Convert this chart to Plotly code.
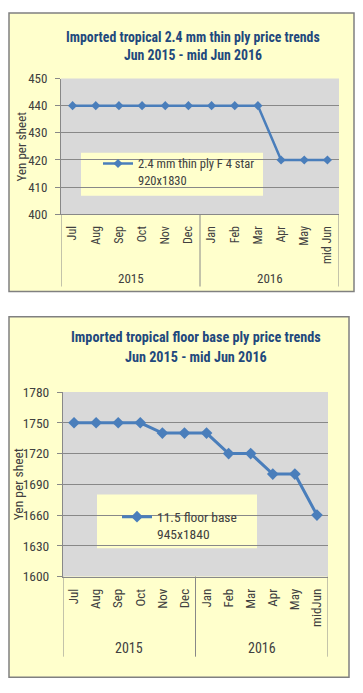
import plotly.graph_objects as go

# ---------------- data ----------------
months_1 = ["Jul", "Aug", "Sep", "Oct", "Nov", "Dec", "Jan", "Feb", "Mar", "Apr", "May", "mid Jun"]
thin_ply_prices = [440, 440, 440, 440, 440, 440, 440, 440, 440, 420, 420, 420]
months_2 = ["Jul", "Aug", "Sep", "Oct", "Nov", "Dec", "Jan", "Feb", "Mar", "Apr", "May", "midJun"]
floor_base_prices = [1750, 1750, 1750, 1750, 1740, 1740, 1740, 1720, 1720, 1700, 1700, 1660]
years = ["2015", "2016"]
year_centres = [2.5, 8.5]
year_bounds = [-0.5, 5.5, 11.5]
y_ticks_1 = [400, 410, 420, 430, 440, 450]
y_ticks_2 = [1600, 1630, 1660, 1690, 1720, 1750, 1780]
y_title = "Yen per sheet"
series_name_1 = "2.4 mm thin ply F 4 star<br>920x1830"
series_name_2 = "11.5 floor base<br>945x1840"
title_1 = ["Imported tropical 2.4 mm thin ply price trends", "Jun 2015 - mid Jun 2016"]
title_2 = ["Imported tropical floor base ply price trends", "Jun 2015 - mid Jun 2016"]

# ---------------- layout helpers ----------------
OFF = 8  # page body margin
W, H = 363 - OFF, 693 - OFF
def px(x):
    return (x - OFF) / W
def py(y):
    return 1 - (y - OFF) / H

FONT = "Liberation Sans Narrow, Arial Narrow, Roboto Condensed, Liberation Sans, sans-serif"
TXT = "#404040"
BLUE = "#4A7EBB"
TITLE_C = "#1F497D"
GRID = "#888888"
YEL = "#FFFFCC"
PLOTBG = "#D9D9D9"

fig = go.Figure()
fig.add_trace(go.Scatter(x=months_1, y=thin_ply_prices, mode="lines+markers",
                         name=series_name_1, xaxis="x", yaxis="y", legend="legend",
                         line=dict(color=BLUE, width=2.5),
                         marker=dict(symbol="diamond", size=7, color=BLUE)))
fig.add_trace(go.Scatter(x=months_2, y=floor_base_prices, mode="lines+markers",
                         name=series_name_2, xaxis="x2", yaxis="y2", legend="legend2",
                         line=dict(color=BLUE, width=3),
                         marker=dict(symbol="diamond", size=9, color=BLUE)))

base = dict(showline=True, linecolor=GRID, linewidth=1, zeroline=False, fixedrange=True)

fig.update_layout(
    width=W, height=H, autosize=False,
    margin=dict(l=0, r=0, t=0, b=0),
    paper_bgcolor="white", plot_bgcolor="rgba(0,0,0,0)",
    font=dict(family=FONT, color=TXT),
    xaxis=dict(domain=[px(61), px(339)], anchor="y", type="category",
               categoryorder="array", categoryarray=months_1,
               range=[-0.5, 11.5], tickangle=-90, showgrid=False, ticks="",
               ticklabelstandoff=6, tickfont=dict(family=FONT, size=12, color=TXT), **base),
    yaxis=dict(domain=[py(211), py(72)], anchor="x", range=[400, 450],
               tickvals=y_ticks_1, showgrid=True, gridcolor=GRID, gridwidth=1,
               ticks="outside", ticklen=5, tickcolor=GRID, ticklabelstandoff=5,
               tickfont=dict(family=FONT, size=13, color=TXT), **base),
    xaxis2=dict(domain=[px(63), px(328)], anchor="y2", type="category",
                categoryorder="array", categoryarray=months_2,
                range=[-0.5, 11.5], tickangle=-90, showgrid=False, ticks="",
                ticklabelstandoff=6, tickfont=dict(family=FONT, size=13, color=TXT), **base),
    yaxis2=dict(domain=[py(582), py(393)], anchor="x2", range=[1600, 1780],
                tickvals=y_ticks_2, showgrid=True, gridcolor=GRID, gridwidth=1,
                ticks="outside", ticklen=5, tickcolor=GRID, ticklabelstandoff=5,
                tickfont=dict(family=FONT, size=13.5, color=TXT), **base),
    legend=dict(x=px(98), y=py(144), xanchor="left", yanchor="top",
                bgcolor="rgba(0,0,0,0)", valign="top",
                font=dict(family=FONT, size=12.5, color=TXT), itemwidth=30),
    legend2=dict(x=px(117), y=py(505), xanchor="left", yanchor="top",
                 bgcolor="rgba(0,0,0,0)", valign="top",
                 font=dict(family=FONT, size=13.5, color=TXT), itemwidth=30),
    showlegend=True,
)

shapes = []
# outer chart boxes
shapes.append(dict(type="rect", xref="paper", yref="paper", x0=px(9), x1=px(354), y0=py(290), y1=py(5),
                   fillcolor=YEL, line=dict(color="#808080", width=1.5), layer="below"))
shapes.append(dict(type="rect", xref="paper", yref="paper", x0=px(9), x1=px(349), y0=py(685), y1=py(316),
                   fillcolor=YEL, line=dict(color="#808080", width=1.5), layer="below"))
# plot area backgrounds
for xa, ya in (("x", "y"), ("x2", "y2")):
    shapes.append(dict(type="rect", xref=f"{xa} domain", yref=f"{ya} domain", x0=0, x1=1, y0=0, y1=1,
                       fillcolor=PLOTBG, line=dict(width=0), layer="below"))
# legend boxes
shapes.append(dict(type="rect", xref="paper", yref="paper", x0=px(81), x1=px(263), y0=py(192), y1=py(148),
                   fillcolor=YEL, line=dict(width=0), layer="between"))
shapes.append(dict(type="rect", xref="paper", yref="paper", x0=px(97), x1=px(257), y0=py(553), y1=py(498),
                   fillcolor=YEL, line=dict(width=0), layer="between"))
# multi-level category dividers
for xa, top, bot in (("x", 211, 285), ("x2", 582, 664)):
    for b in year_bounds:
        shapes.append(dict(type="line", xref=xa, yref="paper", x0=b, x1=b, y0=py(bot), y1=py(top),
                           line=dict(color=GRID, width=1), layer="above"))
fig.update_layout(shapes=shapes)

ann = []
for i, t in enumerate(title_1):
    ann.append(dict(text=f"<b>{t}</b>", xref="paper", yref="paper", x=px(193), y=py([30, 48][i]),
                    xanchor="center", yanchor="middle", showarrow=False,
                    font=dict(family=FONT, size=13.8, color=TITLE_C)))
for i, t in enumerate(title_2):
    ann.append(dict(text=f"<b>{t}</b>", xref="paper", yref="paper", x=px(196), y=py([337, 357][i]),
                    xanchor="center", yanchor="middle", showarrow=False,
                    font=dict(family=FONT, size=14.2, color=TITLE_C)))
for yr, c in zip(years, year_centres):
    ann.append(dict(text=yr, xref="x", yref="paper", x=c, y=py(277), xanchor="center", yanchor="middle",
                    showarrow=False, font=dict(family=FONT, size=13, color=TXT)))
    ann.append(dict(text=yr, xref="x2", yref="paper", x=c, y=py(655), xanchor="center", yanchor="middle",
                    showarrow=False, font=dict(family=FONT, size=14, color=TXT)))
# y-axis titles
ann.append(dict(text=y_title, textangle=-90, xref="paper", yref="y domain", x=px(21), y=0.5,
                xanchor="center", yanchor="middle", showarrow=False,
                font=dict(family=FONT, size=13, color=TXT)))
ann.append(dict(text=y_title, textangle=-90, xref="paper", yref="y2 domain", x=px(18), y=0.5,
                xanchor="center", yanchor="middle", showarrow=False,
                font=dict(family=FONT, size=13.5, color=TXT)))
fig.update_layout(annotations=ann)

fig.write_html("out.html")
